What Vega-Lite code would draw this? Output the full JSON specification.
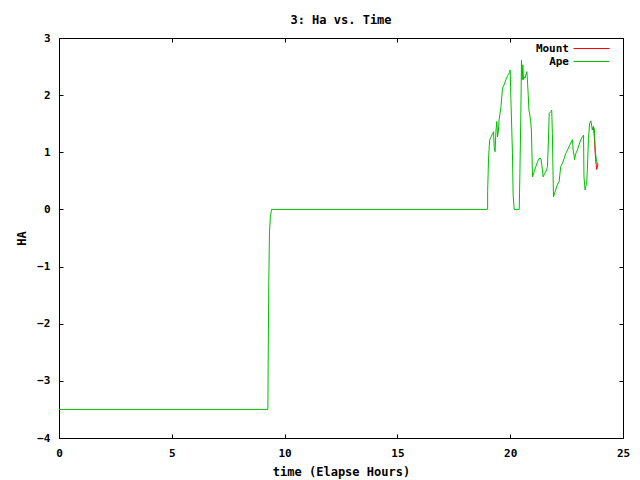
{
  "$schema": "https://vega.github.io/schema/vega-lite/v6.json",
  "width": 564,
  "height": 400,
  "autosize": "none",
  "padding": {"left": 59, "top": 38, "right": 17, "bottom": 42},
  "background": "white",
  "title": {"text": "3: Ha vs. Time", "font": "DejaVu Sans Mono", "fontSize": 12, "fontWeight": "bold", "color": "black", "offset": 5, "anchor": "middle"},
  "config": {
    "view": {"stroke": "black", "strokeWidth": 1},
    "axis": {"grid": false, "domain": false, "labelFont": "DejaVu Sans Mono", "labelFontWeight": "bold", "labelFontSize": 11, "labelColor": "black", "titleFont": "DejaVu Sans Mono", "titleFontWeight": "bold", "titleFontSize": 12, "titleColor": "black", "tickColor": "black", "tickSize": -4, "tickWidth": 1},
    "legend": {"labelFont": "DejaVu Sans Mono", "labelFontWeight": "bold", "labelFontSize": 11, "labelColor": "black"}
  },
  "data": {"values": [
    {"i": 0, "t": 0, "mount": null, "ape": -3.5},
    {"i": 1, "t": 9.26, "mount": null, "ape": -3.5},
    {"i": 2, "t": 9.27, "mount": null, "ape": -2.75},
    {"i": 3, "t": 9.30, "mount": null, "ape": -1.24},
    {"i": 4, "t": 9.33, "mount": null, "ape": -0.39},
    {"i": 5, "t": 9.37, "mount": null, "ape": -0.13},
    {"i": 6, "t": 9.42, "mount": null, "ape": 0},
    {"i": 7, "t": 19.0, "mount": null, "ape": 0},
    {"i": 8, "t": 19.0, "mount": null, "ape": 0.31},
    {"i": 9, "t": 19.04, "mount": null, "ape": 0.89},
    {"i": 10, "t": 19.09, "mount": null, "ape": 1.215},
    {"i": 11, "t": 19.14, "mount": null, "ape": 1.26},
    {"i": 12, "t": 19.22, "mount": null, "ape": 1.33},
    {"i": 13, "t": 19.26, "mount": null, "ape": 1.36},
    {"i": 14, "t": 19.29, "mount": null, "ape": 1.10},
    {"i": 15, "t": 19.33, "mount": null, "ape": 1.01},
    {"i": 16, "t": 19.37, "mount": null, "ape": 1.39},
    {"i": 17, "t": 19.41, "mount": null, "ape": 1.54},
    {"i": 18, "t": 19.44, "mount": null, "ape": 1.27},
    {"i": 19, "t": 19.48, "mount": null, "ape": 1.39},
    {"i": 20, "t": 19.51, "mount": null, "ape": 1.57},
    {"i": 21, "t": 19.59, "mount": null, "ape": 1.80},
    {"i": 22, "t": 19.66, "mount": null, "ape": 2.12},
    {"i": 23, "t": 19.73, "mount": null, "ape": 2.18},
    {"i": 24, "t": 19.81, "mount": null, "ape": 2.27},
    {"i": 25, "t": 19.88, "mount": null, "ape": 2.34},
    {"i": 26, "t": 19.96, "mount": null, "ape": 2.39},
    {"i": 27, "t": 20.0, "mount": null, "ape": 2.44},
    {"i": 28, "t": 20.03, "mount": null, "ape": 1.94},
    {"i": 29, "t": 20.10, "mount": null, "ape": 0.98},
    {"i": 30, "t": 20.13, "mount": null, "ape": 0.25},
    {"i": 31, "t": 20.18, "mount": null, "ape": 0},
    {"i": 32, "t": 20.40, "mount": null, "ape": 0},
    {"i": 33, "t": 20.43, "mount": null, "ape": 0.63},
    {"i": 34, "t": 20.47, "mount": null, "ape": 1.62},
    {"i": 35, "t": 20.50, "mount": null, "ape": 2.61},
    {"i": 36, "t": 20.53, "mount": null, "ape": 2.27},
    {"i": 37, "t": 20.56, "mount": null, "ape": 2.53},
    {"i": 38, "t": 20.59, "mount": null, "ape": 2.27},
    {"i": 39, "t": 20.62, "mount": null, "ape": 2.32},
    {"i": 40, "t": 20.66, "mount": null, "ape": 2.30},
    {"i": 41, "t": 20.69, "mount": null, "ape": 2.35},
    {"i": 42, "t": 20.74, "mount": null, "ape": 2.41},
    {"i": 43, "t": 20.77, "mount": null, "ape": 2.21},
    {"i": 44, "t": 20.80, "mount": null, "ape": 2.00},
    {"i": 45, "t": 20.83, "mount": null, "ape": 1.74},
    {"i": 46, "t": 20.87, "mount": null, "ape": 1.65},
    {"i": 47, "t": 20.90, "mount": null, "ape": 1.56},
    {"i": 48, "t": 20.94, "mount": null, "ape": 1.39},
    {"i": 49, "t": 20.97, "mount": null, "ape": 0.87},
    {"i": 50, "t": 20.99, "mount": null, "ape": 0.57},
    {"i": 51, "t": 21.06, "mount": null, "ape": 0.66},
    {"i": 52, "t": 21.14, "mount": null, "ape": 0.75},
    {"i": 53, "t": 21.21, "mount": null, "ape": 0.835},
    {"i": 54, "t": 21.28, "mount": null, "ape": 0.89},
    {"i": 55, "t": 21.36, "mount": null, "ape": 0.89},
    {"i": 56, "t": 21.40, "mount": null, "ape": 0.78},
    {"i": 57, "t": 21.46, "mount": null, "ape": 0.57},
    {"i": 58, "t": 21.53, "mount": null, "ape": 0.63},
    {"i": 59, "t": 21.61, "mount": null, "ape": 0.69},
    {"i": 60, "t": 21.65, "mount": null, "ape": 0.75},
    {"i": 61, "t": 21.68, "mount": null, "ape": 1.04},
    {"i": 62, "t": 21.73, "mount": null, "ape": 1.68},
    {"i": 63, "t": 21.80, "mount": null, "ape": 1.71},
    {"i": 64, "t": 21.84, "mount": null, "ape": 1.74},
    {"i": 65, "t": 21.87, "mount": null, "ape": 1.33},
    {"i": 66, "t": 21.90, "mount": null, "ape": 0.60},
    {"i": 67, "t": 21.92, "mount": null, "ape": 0.22},
    {"i": 68, "t": 21.99, "mount": null, "ape": 0.31},
    {"i": 69, "t": 22.09, "mount": null, "ape": 0.43},
    {"i": 70, "t": 22.17, "mount": null, "ape": 0.49},
    {"i": 71, "t": 22.24, "mount": null, "ape": 0.75},
    {"i": 72, "t": 22.32, "mount": null, "ape": 0.81},
    {"i": 73, "t": 22.39, "mount": null, "ape": 0.89},
    {"i": 74, "t": 22.46, "mount": null, "ape": 0.98},
    {"i": 75, "t": 22.54, "mount": null, "ape": 1.04},
    {"i": 76, "t": 22.61, "mount": null, "ape": 1.10},
    {"i": 77, "t": 22.68, "mount": null, "ape": 1.16},
    {"i": 78, "t": 22.76, "mount": null, "ape": 1.22},
    {"i": 79, "t": 22.79, "mount": null, "ape": 1.04},
    {"i": 80, "t": 22.83, "mount": null, "ape": 0.95},
    {"i": 81, "t": 22.85, "mount": null, "ape": 0.87},
    {"i": 82, "t": 22.91, "mount": null, "ape": 0.98},
    {"i": 83, "t": 22.98, "mount": null, "ape": 1.04},
    {"i": 84, "t": 23.05, "mount": null, "ape": 1.13},
    {"i": 85, "t": 23.13, "mount": null, "ape": 1.22},
    {"i": 86, "t": 23.20, "mount": null, "ape": 1.27},
    {"i": 87, "t": 23.25, "mount": null, "ape": 1.30},
    {"i": 88, "t": 23.27, "mount": null, "ape": 0.57},
    {"i": 89, "t": 23.32, "mount": null, "ape": 0.34},
    {"i": 90, "t": 23.35, "mount": null, "ape": 0.40},
    {"i": 91, "t": 23.39, "mount": null, "ape": 0.46},
    {"i": 92, "t": 23.42, "mount": null, "ape": 0.69},
    {"i": 93, "t": 23.47, "mount": null, "ape": 1.24},
    {"i": 94, "t": 23.52, "mount": null, "ape": 1.51},
    {"i": 95, "t": 23.58, "mount": null, "ape": 1.55},
    {"i": 96, "t": 23.64, "mount": 1.39, "ape": 1.39},
    {"i": 97, "t": 23.69, "mount": 1.45, "ape": 1.45},
    {"i": 98, "t": 23.73, "mount": 1.27, "ape": 1.40},
    {"i": 99, "t": 23.76, "mount": 1.04, "ape": 1.12},
    {"i": 100, "t": 23.79, "mount": 0.87, "ape": 0.96},
    {"i": 101, "t": 23.83, "mount": 0.70, "ape": 0.84},
    {"i": 102, "t": 23.86, "mount": 0.74, "ape": 0.80},
    {"i": 103, "t": 23.89, "mount": 0.80, "ape": 0.82}
  ]},
  "resolve": {"axis": {"x": "independent", "y": "independent"}},
  "layer": [
    {
      "mark": {"type": "line", "strokeWidth": 1, "interpolate": "linear"},
      "encoding": {
        "x": {"field": "t", "type": "quantitative", "scale": {"domain": [0, 25], "nice": false, "zero": false},
              "axis": {"orient": "bottom", "values": [0, 5, 10, 15, 20, 25], "title": "time (Elapse Hours)", "labelPadding": 13, "titlePadding": 8, "labelFlush": false}},
        "y": {"field": "mount", "type": "quantitative", "scale": {"domain": [-4, 3], "nice": false, "zero": false},
              "axis": {"orient": "left", "values": [-4, -3, -2, -1, 0, 1, 2, 3], "title": "HA", "labelPadding": 13, "titlePadding": 8, "labelFlush": false}},
        "order": {"field": "i"},
        "color": {"datum": "Mount", "type": "nominal",
                  "scale": {"domain": ["Mount", "Ape"], "range": ["#ff0000", "#00c000"]},
                  "legend": {"title": null, "orient": "none", "legendX": 526, "legendY": 4, "padding": 0, "symbolType": "M-3,0H3", "symbolSize": 144, "symbolStrokeWidth": 1, "labelAlign": "right", "labelOffset": -29, "rowPadding": 1}}
      }
    },
    {
      "mark": {"type": "line", "strokeWidth": 1, "interpolate": "linear"},
      "encoding": {
        "x": {"field": "t", "type": "quantitative", "scale": {"domain": [0, 25], "nice": false, "zero": false},
              "axis": {"orient": "top", "values": [0, 5, 10, 15, 20, 25], "title": null, "labels": false}},
        "y": {"field": "ape", "type": "quantitative", "scale": {"domain": [-4, 3], "nice": false, "zero": false},
              "axis": {"orient": "right", "values": [-4, -3, -2, -1, 0, 1, 2, 3], "title": null, "labels": false}},
        "order": {"field": "i"},
        "color": {"datum": "Ape", "type": "nominal"}
      }
    }
  ]
}
